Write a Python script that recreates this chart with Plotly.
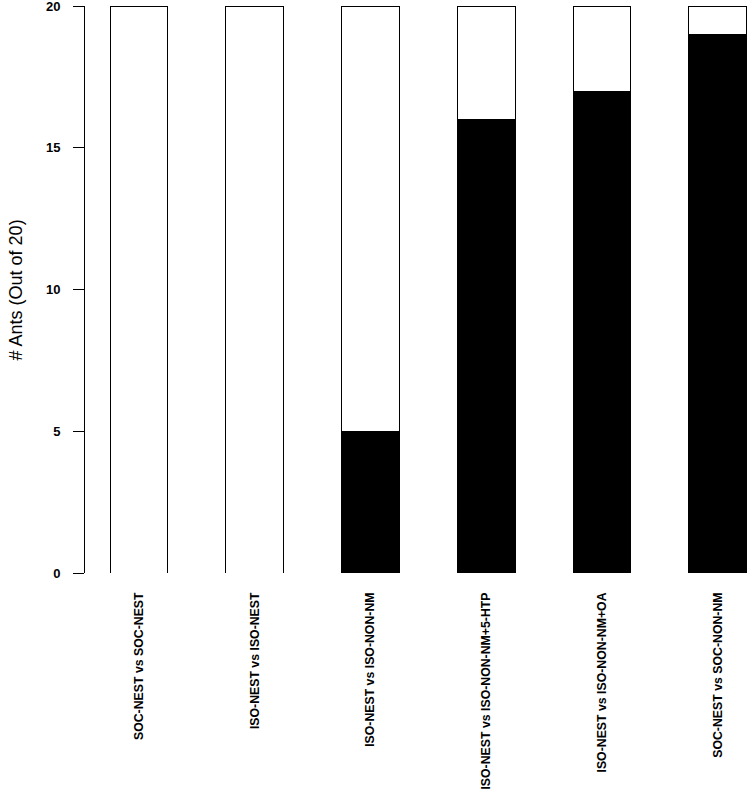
import plotly.graph_objects as go

categories = ["SOC-NEST vs SOC-NEST", "ISO-NEST vs ISO-NEST", "ISO-NEST vs ISO-NON-NM",
              "ISO-NEST vs ISO-NON-NM+5-HTP", "ISO-NEST vs ISO-NON-NM+OA", "SOC-NEST vs SOC-NON-NM"]
black_counts = [0, 0, 5, 16, 17, 19]
total = 20
white_counts = [total - b for b in black_counts]
y_ticks = [0, 5, 10, 15, 20]
y_title = "# Ants (Out of 20)"

fig = go.Figure()
fig.add_trace(go.Bar(x=categories, y=black_counts, width=0.5,
                     marker=dict(color="black", line=dict(color="black", width=1)),
                     showlegend=False))
fig.add_trace(go.Bar(x=categories, y=white_counts, width=0.5,
                     marker=dict(color="white", line=dict(color="black", width=1)),
                     showlegend=False))

fig.update_layout(
    barmode="stack",
    width=749, height=791,
    margin=dict(l=85, r=0, t=6, b=218),
    plot_bgcolor="white", paper_bgcolor="white",
    font=dict(family="Liberation Sans, Arial, sans-serif", color="black"),
)
fig.update_xaxes(range=[-0.466, 5.27], showline=False, showgrid=False, zeroline=False,
                 automargin=False, ticklabeloverflow="allow",
                 ticks="", tickangle=-90, ticklabelstandoff=16,
                 tickfont=dict(size=12.3, family="Liberation Sans, Arial, sans-serif", weight="bold"))
fig.update_yaxes(range=[0, 20], tickvals=y_ticks, showgrid=False, zeroline=False,
                 automargin=False, ticklabeloverflow="allow",
                 showline=True, linecolor="black", linewidth=1,
                 ticks="outside", ticklen=11, tickcolor="black", tickwidth=1,
                 ticklabelstandoff=10,
                 tickfont=dict(size=13, weight="bold"))
fig.add_annotation(text=y_title, xref="paper", yref="paper", x=-0.104, y=0.5,
                   xanchor="center", yanchor="middle", textangle=-90, showarrow=False,
                   font=dict(size=18, color="black"))
fig.write_html("out.html", config={"displayModeBar": False},
               post_script="document.body.style.margin='0';document.body.style.overflow='hidden';")
